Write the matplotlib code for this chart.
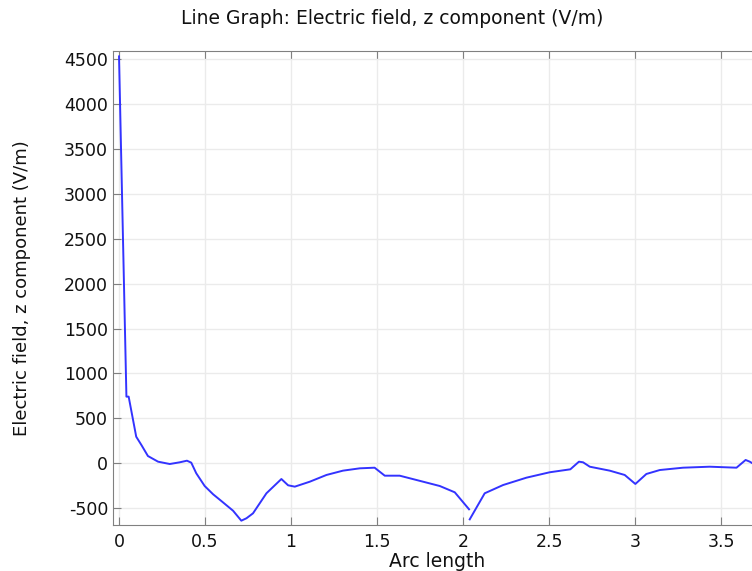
import numpy as np
import matplotlib.pyplot as plt

plt.rcParams['axes.unicode_minus'] = False

# Data (arc length, Ez in V/m)
arc_1 = [0.0, 0.043, 0.056, 0.10, 0.13, 0.168, 0.227, 0.295, 0.353, 0.395, 0.42,
         0.449, 0.498, 0.547, 0.595, 0.663, 0.711, 0.741, 0.779, 0.857, 0.944,
         0.983, 1.022, 1.109, 1.206, 1.302, 1.40, 1.486, 1.545, 1.632, 1.768,
         1.865, 1.952, 2.035]
ez_1 = [4530, 742, 742, 296, 204, 81, 18, -8, 11, 29, 7,
        -111, -253, -345, -420, -528, -639, -612, -557, -334, -175,
        -245, -260, -205, -130, -82, -56, -49, -138, -138, -205,
        -253, -323, -512]

arc_2 = [2.039, 2.126, 2.233, 2.369, 2.504, 2.624, 2.674, 2.698, 2.737, 2.853,
         2.94, 3.002, 3.066, 3.144, 3.279, 3.434, 3.59, 3.643, 3.667, 3.70, 3.73]
ez_2 = [-624, -334, -242, -160, -100, -67, 18, 11, -38, -82,
        -130, -230, -119, -75, -49, -38, -49, 37, 18, -20, -40]

y_ticks = [-500, 0, 500, 1000, 1500, 2000, 2500, 3000, 3500, 4000, 4500]
x_ticks = [0, 0.5, 1, 1.5, 2, 2.5, 3, 3.5]

fig = plt.figure(figsize=(7.52, 5.71), dpi=100)
W, H = 752, 571
# axes runs past the right edge of the picture, like the cropped original
ax = fig.add_axes([113 / W, 1 - 525 / H, (761 - 113) / W, (525 - 51) / H])

ax.plot(arc_1, ez_1, color='#3333ff', lw=1.4)
ax.plot(arc_2, ez_2, color='#3333ff', lw=1.4)

ax.set_xlim(-0.035, -0.035 + 648 / 172)
ax.set_ylim(-687, 4590)
ax.set_xticks(x_ticks)
ax.set_xticklabels(['0', '0.5', '1', '1.5', '2', '2.5', '3', '3.5'])
ax.set_yticks(y_ticks)

ax.grid(True, color='#ebebeb', lw=1)
ax.set_axisbelow(True)
for s in ax.spines.values():
    s.set_color('#808080')
ax.spines['right'].set_visible(False)
ax.tick_params(direction='in', length=6, color='#808080', labelsize=12.5,
               top=True, labelcolor='#111111')
ax.tick_params(axis='x', pad=6)

ax.set_xlabel('Arc length', fontsize=13.5, labelpad=0.5, color='#111111')
ax.set_ylabel('Electric field, z component (V/m)', fontsize=13, color='#111111')
ax.yaxis.set_label_coords((22 - 113) / 648, 0.5)
ax.yaxis.label.set_va('center')
fig.text(392 / W, 1 - 18 / H, 'Line Graph: Electric field, z component (V/m)',
         ha='center', va='center', fontsize=13.5, color='#111111')

fig.savefig('out.png', dpi=100)
